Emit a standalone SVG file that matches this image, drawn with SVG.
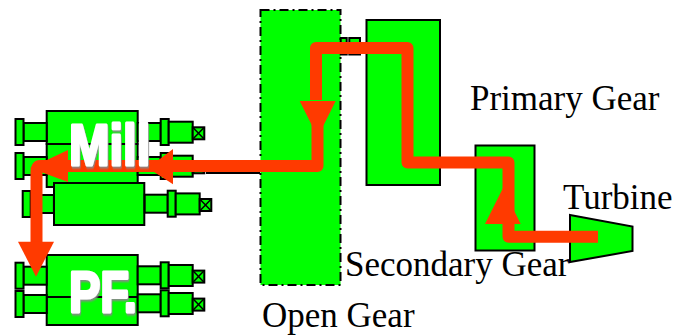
<svg xmlns="http://www.w3.org/2000/svg" width="675" height="335" viewBox="0 0 675 335">
<style>
.m{fill:#00ff00;stroke:#000;stroke-width:2}
.x{fill:none;stroke:#000;stroke-width:1.5}
.l{font-family:"Liberation Serif","Times New Roman",serif;font-size:35px;fill:#000}
.b{font-family:"Liberation Sans",Arial,sans-serif;font-weight:bold;font-size:58px;fill:#fff;stroke:#fff;stroke-width:3;stroke-linejoin:round;filter:url(#s)}
.f{fill:#ff3a00}
.w{fill:none;stroke:#ff3a00;stroke-width:12;stroke-linejoin:round}
</style>
<defs>
<filter id="s" x="-10%" y="-10%" width="120%" height="125%"><feDropShadow dx="1" dy="2" stdDeviation="0.8" flood-color="#888"/></filter>
<g id="shaftR">
<rect class="m" x="137.7" y="4" width="23" height="18"/>
<rect class="m" x="160.7" y="0" width="8" height="26"/>
<rect class="m" x="168.7" y="2.7" width="24" height="21"/>
<rect class="m" x="192.7" y="8.3" width="11.6" height="12"/>
<path class="x" d="M192.7 8.3l11.6 12M204.3 8.3l-11.6 12"/>
</g>
<g id="shaftL">
<rect class="m" x="23.5" y="4" width="23.2" height="18"/>
<rect class="m" x="15.5" y="0" width="8" height="26"/>
</g>
</defs>
<g id="open-gear"><rect x="260.500" y="10" width="80" height="275" fill="#00ff00" stroke="#000" stroke-width="2" stroke-dasharray="9 4 2 4"/></g>
<g id="coupling"><rect class="m" x="340.700" y="38" width="6" height="16.500"/><rect class="m" x="349.300" y="38" width="10.700" height="16.500"/></g>
<g id="primary-gear"><rect class="m" x="366.500" y="20" width="73.500" height="165"/></g>
<g id="secondary-gear"><rect class="m" x="475.500" y="145.500" width="59" height="105"/></g>
<g id="turbine"><polygon class="m" points="570,215 632.500,226.500 632.500,251 570,262"/></g>
<g id="shaft-link"><path d="M206 173H260" stroke="#000" stroke-width="2" fill="none"/></g>
<g id="mill-1"><rect class="m" x="46.700" y="111" width="91" height="33"/><use href="#shaftL" y="119"/><use href="#shaftR" y="119"/></g>
<g id="mill-2"><rect class="m" x="46.700" y="144" width="91" height="43"/><use href="#shaftL" y="153"/><use href="#shaftR" y="153"/></g>
<g id="mill-3"><rect class="m" x="54" y="183" width="90.300" height="42"/><use href="#shaftL" x="7.200" y="191"/><use href="#shaftR" x="7" y="190.700"/></g>
<g id="pf"><rect class="m" x="46.700" y="255" width="91" height="70"/><path d="M46.700 297H137.700" stroke="#000" stroke-width="2"/><use href="#shaftL" y="262.700"/><use href="#shaftL" y="291"/><use href="#shaftR" y="262.300"/><use href="#shaftR" y="290.300"/></g>
<g id="connectors">
<path class="w" d="M598 236.800H508.500V162.500H407.500V48H316V100M317.500 120V166H40Q36.500 166 36.500 172V245"/>
<polygon class="f" points="299.700,101 335.700,101 317.700,137"/>
<polygon class="f" points="485,224 520.700,224 503,188"/>
<polygon class="f" points="173,149 173,184.300 148,168"/>
<polygon class="f" points="68,150 68,182 30,168"/>
<polygon class="f" points="18,241.700 54,241.700 36,276.700"/>
</g>
<g id="labels">
<text class="b" transform="translate(69 164.500) scale(0.84 1)">Mill</text>
<text class="b" transform="translate(69 311.500) scale(0.81 1)">PF.</text>
<text class="l" x="470" y="110">Primary Gear</text>
<text class="l" x="563" y="209">Turbine</text>
<text class="l" x="345" y="276">Secondary Gear</text>
<text class="l" x="262" y="327">Open Gear</text>
</g>
</svg>
